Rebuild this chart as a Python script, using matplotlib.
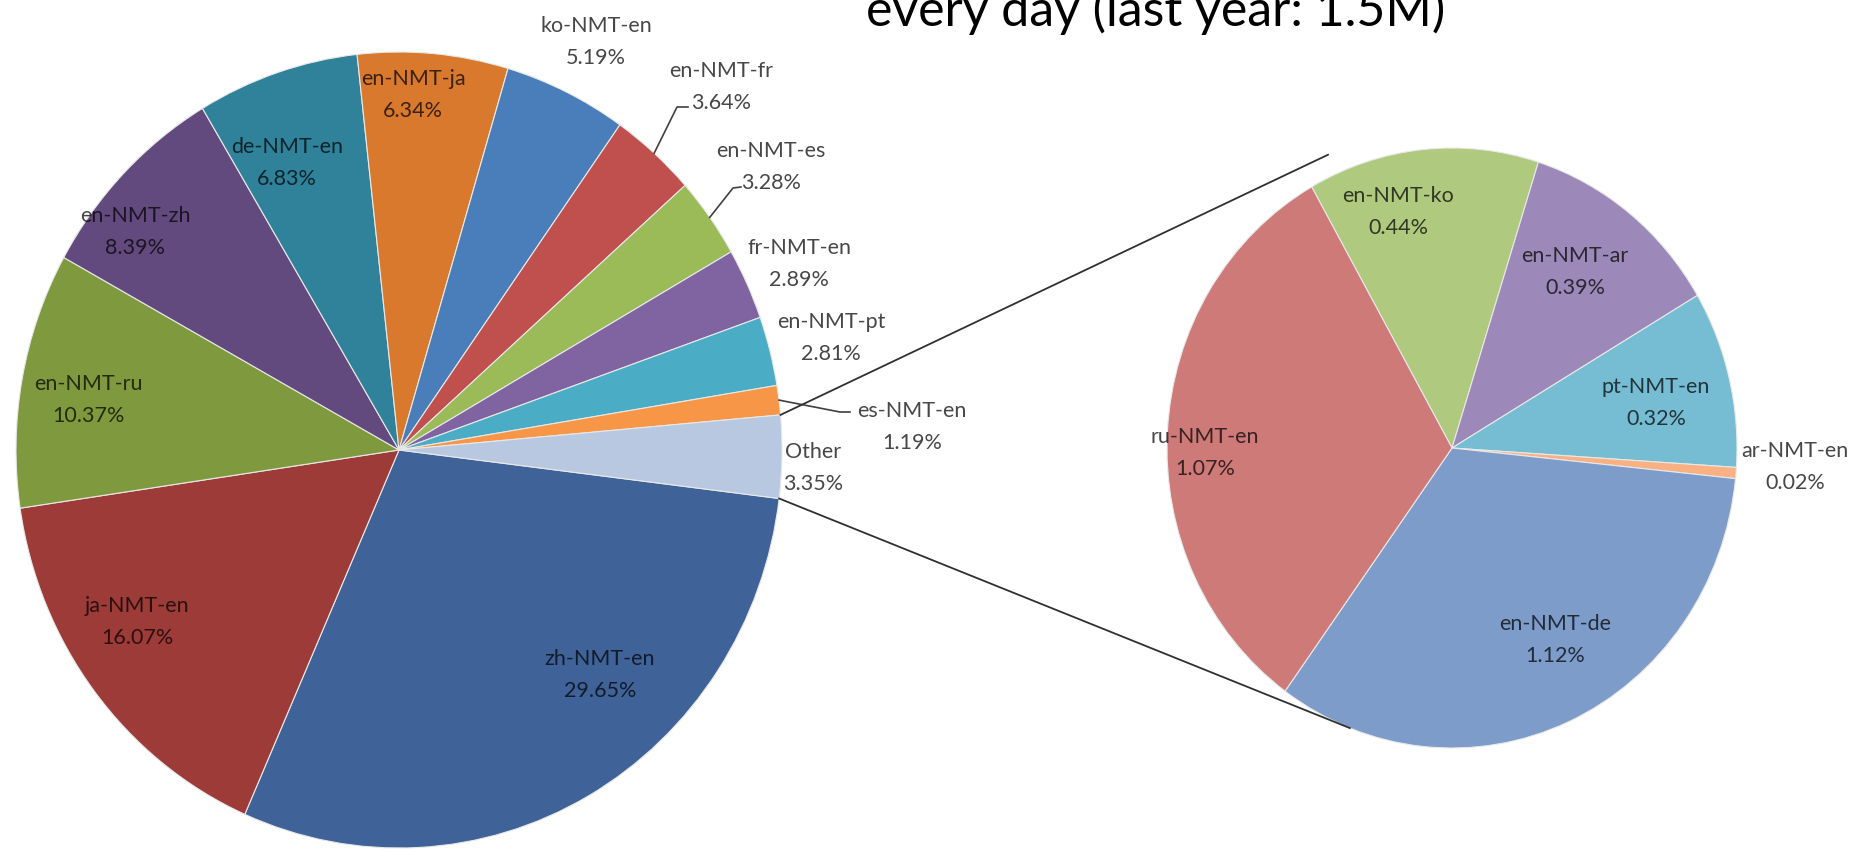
import numpy as np
import matplotlib.pyplot as plt

W, H = 1866, 849

# main pie, clockwise from the "Other" slice
main_labels = ['zh-NMT-en', 'ja-NMT-en', 'en-NMT-ru', 'en-NMT-zh', 'de-NMT-en',
               'en-NMT-ja', 'ko-NMT-en', 'en-NMT-fr', 'en-NMT-es', 'fr-NMT-en',
               'en-NMT-pt', 'es-NMT-en', 'Other']
main_values = [29.65, 16.07, 10.37, 8.39, 6.83, 6.34, 5.19, 3.64, 3.28, 2.89,
               2.81, 1.19, 3.35]
main_colors = ['#3F6399', '#9C3B38', '#7F9A3E', '#634A7E', '#2F8299', '#D9792E',
               '#4A7EBB', '#C0504D', '#9BBB59', '#8064A2', '#4BACC6', '#F79646',
               '#B8C8E0']

# breakdown of "Other"
sub_labels = ['en-NMT-ko', 'en-NMT-ar', 'pt-NMT-en', 'ar-NMT-en', 'en-NMT-de', 'ru-NMT-en']
sub_values = [0.44, 0.39, 0.32, 0.02, 1.12, 1.07]
sub_colors = ['#AFC97F', '#9D89B9', '#76BDD4', '#F9B183', '#7E9CCA', '#CD7A78']

title_text = 'every day (last year: 1.5M)'

# layout in pixels: centre x, centre y, radius x, radius y
MAIN = (399, 450, 383, 398)
SUB = (1452, 448, 285, 300)

main_label_pos = [(600, 675), (137, 622), (88, 400), (135, 232), (287, 163),
                  (413, 95), (596, 42), (721, 87), (771, 167), (799, 264),
                  (831, 338), (912, 427), (813, 468)]
sub_label_pos = [(1398, 212), (1575, 272), (1656, 403), (1795, 467),
                 (1555, 640), (1205, 453)]
# leader lines: slice index -> (elbow, end)
leaders = {7: ((677, 107), (688, 107)),
           8: ((733, 188), (741, 187)),
           11: ((840, 412), (850, 412))}

FONT = ['Lato', 'DejaVu Sans']


def to_px(geom, ang, r=1.0):
    cx, cy, rx, ry = geom
    a = np.deg2rad(ang)
    return cx + r * rx * np.cos(a), cy - r * ry * np.sin(a)


def pie_axes(fig, geom):
    cx, cy, rx, ry = geom
    ax = fig.add_axes([(cx - rx) / W, 1 - (cy + ry) / H, 2 * rx / W, 2 * ry / H])
    return ax


fig = plt.figure(figsize=(W / 100, H / 100), dpi=100)
fig.patch.set_facecolor('white')

ax1 = pie_axes(fig, MAIN)
w1, _ = ax1.pie(main_values, colors=main_colors, startangle=-7, counterclock=False,
                radius=1, wedgeprops=dict(edgecolor='#e8e8e8', linewidth=0.8))
ax2 = pie_axes(fig, SUB)
w2, _ = ax2.pie(sub_values, colors=sub_colors, startangle=119.5, counterclock=False,
                radius=1, wedgeprops=dict(edgecolor='#e8e8e8', linewidth=0.8))
for ax in (ax1, ax2):
    ax.set_xlim(-1, 1)
    ax.set_ylim(-1, 1)
    ax.set_aspect('auto')
    ax.axis('off')

ov = fig.add_axes([0, 0, 1, 1])
ov.set_xlim(0, W)
ov.set_ylim(H, 0)
ov.axis('off')
ov.patch.set_alpha(0)

# title, cut off at the top of the picture (as in the source slide)
ov.text(866, 26, title_text, fontsize=36, va='baseline', ha='left',
        family=FONT, color='black')

lab_kw = dict(ha='center', va='center', fontsize=15.5, family=FONT,
              color='black', alpha=0.72, linespacing=1.7)

for i, (name, val) in enumerate(zip(main_labels, main_values)):
    x, y = main_label_pos[i]
    ov.text(x, y, f'{name}\n{val:.2f}%', **lab_kw)
    if i in leaders:
        wd = w1[i]
        mid = (wd.theta1 + wd.theta2) / 2
        p0 = to_px(MAIN, mid)
        (ex, ey), (fx, fy) = leaders[i]
        ov.plot([p0[0], ex, fx], [p0[1], ey, fy], color='#404040', lw=1.2)

for i, (name, val) in enumerate(zip(sub_labels, sub_values)):
    x, y = sub_label_pos[i]
    ov.text(x, y, f'{name}\n{val:.2f}%', **lab_kw)

# connector lines between the "Other" slice and the second pie
other = w1[-1]
a_hi, a_lo = max(other.theta1, other.theta2), min(other.theta1, other.theta2)
for a_main, a_sub, r_sub in ((a_hi, 114, 1.07), (a_lo, -111, 1.0)):
    p = to_px(MAIN, a_main)
    q = to_px(SUB, a_sub, r_sub)
    ov.plot([p[0], q[0]], [p[1], q[1]], color='#303030', lw=1.3)

fig.savefig('out.png', dpi=100)
